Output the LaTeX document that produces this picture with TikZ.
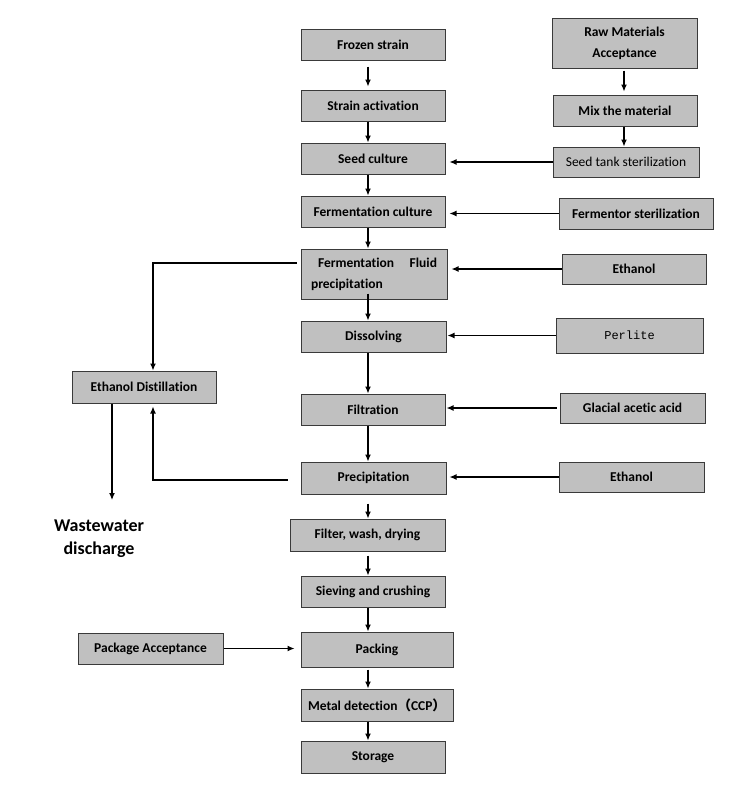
\documentclass[tikz,border=0pt]{standalone}
\usepackage{fontspec}
\setmainfont{Carlito}[Ligatures={NoCommon,NoRequired,NoContextual}]
\newfontfamily\monofnt{Liberation Mono}
\newfontfamily\cjk{Noto Sans CJK SC}
\usetikzlibrary{arrows.meta}
\definecolor{boxgray}{HTML}{C0C0C0}
\definecolor{boxline}{HTML}{3A3A3A}
\tikzset{
  box/.style={draw=boxline, line width=1pt, fill=boxgray, inner sep=0pt,
    font=\fontsize{13.5}{21}\selectfont\bfseries, align=center},
  arr/.style={line width=1.2pt, -{Latex[length=7pt,width=6pt]}},
}
\begin{document}
\begin{tikzpicture}[x=1pt,y=-1pt]
\useasboundingbox (0,0) rectangle (743,788);
% main column
\node[box, minimum width=144pt, minimum height=31pt] (frozen) at (373,44.5) {Frozen strain};
\node[box, minimum width=144pt, minimum height=31pt] (act) at (373,105.5) {Strain activation};
\node[box, minimum width=144pt, minimum height=31pt] (seed) at (373,158.5) {Seed culture};
\node[box, minimum width=144pt, minimum height=31pt] (fermc) at (373,211.5) {Fermentation culture};
\node[box, minimum width=146pt, minimum height=50pt] (ffp) at (374,274)
  {\parbox{126pt}{\hspace*{7pt}Fermentation\hfill Fluid\\precipitation}};
\node[box, minimum width=145pt, minimum height=31pt] (diss) at (373.5,336.5) {Dissolving};
\node[box, minimum width=144pt, minimum height=31pt] (filt) at (373,409.5) {Filtration};
\node[box, minimum width=145pt, minimum height=32pt] (prec) at (373.5,478) {Precipitation};
\node[box, minimum width=155pt, minimum height=32pt] (fwd) at (367.5,535) {Filter, wash, drying};
\node[box, minimum width=144pt, minimum height=31pt] (siev) at (373,591.5) {Sieving and crushing};
\node[box, minimum width=152pt, minimum height=35pt] (pack) at (377,649.5) {Packing};
\node[box, minimum width=152pt, minimum height=32pt] (metal) at (377,705) {Metal detection{\cjk （}CCP{\cjk ）}};
\node[box, minimum width=144pt, minimum height=32pt] (stor) at (373,757) {Storage};
% right column
\node[box, minimum width=145pt, minimum height=50pt] (raw) at (624.5,43) {Raw Materials\\Acceptance};
\node[box, minimum width=144pt, minimum height=31pt] (mix) at (625,110.5) {Mix the material};
\node[box, minimum width=146pt, minimum height=30pt, font=\fontsize{13.5}{16}\selectfont] (stank) at (626,162) {Seed tank sterilization};
\node[box, minimum width=154pt, minimum height=31pt] (fster) at (636,213.5) {Fermentor sterilization};
\node[box, minimum width=144pt, minimum height=30pt] (eth1) at (634,269) {Ethanol};
\node[box, minimum width=147pt, minimum height=35pt, font=\fontsize{12}{14}\selectfont\monofnt] (perl) at (629.5,335.5) {Perlite};
\node[box, minimum width=145pt, minimum height=30pt] (glac) at (632.5,408) {Glacial acetic acid};
\node[box, minimum width=145pt, minimum height=30pt] (eth2) at (631.5,477) {Ethanol};
% left column
\node[box, minimum width=144pt, minimum height=32pt] (edist) at (144,387) {Ethanol Distillation};
\node[box, minimum width=145pt, minimum height=31pt] (pkgacc) at (150.5,648.5) {Package Acceptance};
\node[font=\fontsize{18}{23}\selectfont\bfseries, align=center] (waste) at (99,538.5) {Wastewater\\discharge};
% coordinates
\coordinate (colx) at (368,0);
\coordinate (rx) at (624,0);
\coordinate (wend) at (112,500);
% main vertical arrows
\draw[arr, shorten <=6pt, shorten >=3pt] (frozen.south -| colx) -- (act.north -| colx);
\draw[arr] (act.south -| colx) -- (seed.north -| colx);
\draw[arr] (seed.south -| colx) -- (fermc.north -| colx);
\draw[arr] (fermc.south -| colx) -- (ffp.north -| colx);
\draw[arr, shorten <=-6pt] (ffp.south -| colx) -- (diss.north -| colx);
\draw[arr] (diss.south -| colx) -- (filt.north -| colx);
\draw[arr] (filt.south -| colx) -- (prec.north -| colx);
\draw[arr, shorten <=9pt] (prec.south -| colx) -- (fwd.north -| colx);
\draw[arr, shorten <=4pt] (fwd.south -| colx) -- (siev.north -| colx);
\draw[arr] (siev.south -| colx) -- (pack.north -| colx);
\draw[arr, shorten <=2pt] (pack.south -| colx) -- (metal.north -| colx);
\draw[arr] (metal.south -| colx) -- (stor.north -| colx);
% right vertical arrows
\draw[arr, shorten <=2pt, shorten >=3pt] (raw.south -| rx) -- (mix.north -| rx);
\draw[arr] (mix.south -| rx) -- (stank.north -| rx);
% horizontal inputs
\draw[arr, shorten >=4pt] (stank.west) -- (stank.west -| seed.east);
\draw[arr, shorten >=4pt] (fster.west) -- (fster.west -| fermc.east);
\draw[arr, shorten >=4pt] (eth1.west) -- (eth1.west -| ffp.east);
\draw[arr, shorten >=1pt] (perl.west) -- (perl.west -| diss.east);
\draw[arr, shorten <=3pt, shorten >=1pt] (glac.west) -- (glac.west -| filt.east);
\draw[arr, shorten >=3pt] (eth2.west) -- (eth2.west -| prec.east);
\draw[arr, shorten >=6pt] (pkgacc.east) -- (pkgacc.east -| pack.west);
% ethanol recovery loop
\draw[arr] ([xshift=-4pt,yshift=11pt]ffp.west) -| ([xshift=9pt]edist.north);
\draw[arr, shorten >=3pt] ([xshift=-13pt,yshift=-2pt]prec.west) -| ([xshift=9pt]edist.south);
\draw[arr] (edist.south -| wend) -- (wend);
\end{tikzpicture}
\end{document}
